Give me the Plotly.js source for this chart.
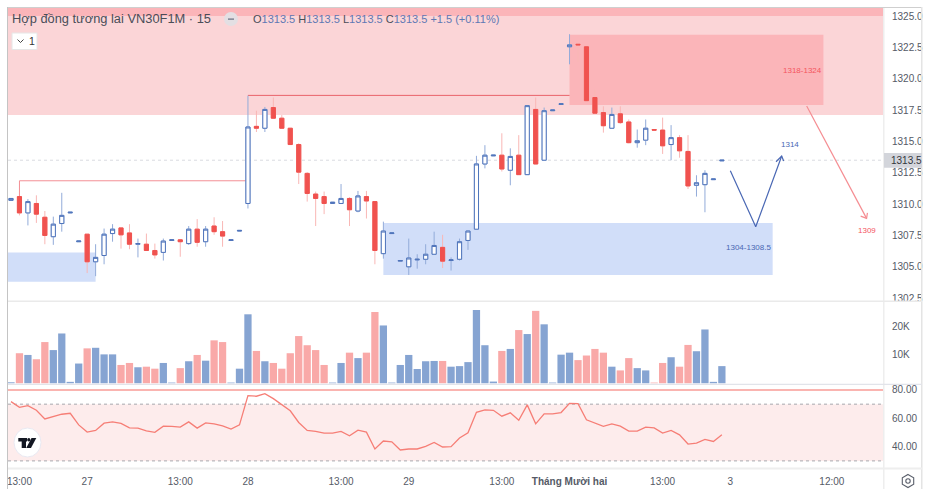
<!DOCTYPE html>
<html><head><meta charset="utf-8">
<script src="https://cdn.plot.ly/plotly-3.0.1.min.js"></script>
<style>html,body{margin:0;padding:0;background:#fff}#c{width:928px;height:489px}</style></head>
<body><div id="c"></div>
<script>
const opens=[1310.3,1310.6,1309.3,1310.05,1308.95,1307.4,1308.45,1309.3,1307.0,1307.6,1305.4,1305.9,1307.65,1308.1,1307.7,1306.8,1306.8,1306.3,1306.15,1307.1,1307.15,1306.85,1308.0,1307.0,1308.25,1307.8,1307.1,1307.85,1310.05,1316.2,1316.05,1317.7,1316.85,1316.05,1314.75,1312.45,1310.8,1310.6,1310.05,1310.05,1310.45,1309.45,1310.6,1310.2,1306.05,1307.65,1305.45,1305.0,1305.55,1305.6,1306.0,1306.55,1305.5,1305.6,1307.1,1308.0,1313.2,1313.85,1313.9,1312.7,1313.9,1312.35,1317.55,1313.5,1317.45,1317.95,1322.55,1322.75,1322.55,1318.5,1317.3,1316.05,1317.2,1316.55,1314.9,1315.1,1315.95,1315.9,1314.75,1315.3,1314.2,1311.5,1311.55,1311.95,1313.45];
const closes=[1310.45,1309.3,1310.2,1309.2,1307.5,1308.4,1309.1,1309.35,1307.05,1305.4,1305.75,1307.6,1308.0,1307.55,1306.8,1306.85,1306.3,1305.95,1307.05,1307.15,1307.0,1308.0,1306.95,1308.0,1307.8,1307.45,1307.15,1307.9,1316.15,1316.05,1317.55,1316.85,1316.05,1314.75,1312.55,1310.85,1310.45,1310.05,1310.15,1310.45,1309.55,1310.65,1310.25,1306.3,1307.85,1307.7,1305.5,1305.7,1305.6,1306.0,1306.7,1305.45,1305.55,1307.0,1307.85,1313.2,1313.9,1313.9,1312.8,1313.8,1312.35,1317.85,1313.2,1317.45,1317.5,1318.0,1322.7,1322.7,1318.25,1317.25,1316.25,1317.15,1316.5,1314.9,1315.05,1316.05,1315.9,1314.65,1315.3,1314.25,1311.45,1311.7,1312.45,1312.0,1313.5];
const highs=[1310.45,1310.6,1310.4,1310.7,1309.45,1309,1310.9,1309.35,1307.05,1307.6,1306.8,1308.05,1308.4,1308.1,1308.4,1307.25,1307.65,1306.85,1307.25,1307.15,1307.2,1308.25,1308.8,1308.25,1308.95,1308.65,1307.15,1307.9,1318.65,1317.45,1317.75,1318.5,1317.1,1316.05,1314.85,1312.55,1311,1311,1310.15,1311.6,1310.55,1311.05,1311.05,1310.2,1308.6,1307.7,1305.5,1307.25,1306,1306.8,1307.8,1307.55,1305.75,1307.25,1307.9,1313.85,1314.7,1313.9,1315.65,1314.45,1315.5,1317.85,1318.5,1317.7,1317.5,1318,1323.55,1322.9,1322.55,1319.15,1317.8,1317.7,1317.8,1316.75,1315.95,1316.75,1315.95,1316.9,1316.3,1315.5,1315.5,1312.3,1312.7,1312,1313.5];
const lows=[1310.3,1309.1,1308.3,1308.5,1306.8,1306.75,1307.8,1309.3,1307,1304.5,1304.25,1305.2,1307,1306.45,1306.4,1305.75,1306.3,1305.65,1305.5,1307.1,1305.8,1306.75,1306.6,1306.6,1307.55,1306.6,1307.1,1307.85,1309.65,1315.75,1315.75,1316.85,1316.05,1314.75,1311.6,1310.2,1308.25,1309.2,1310.05,1310.05,1308.25,1309.35,1308.85,1305.2,1305.65,1307.65,1305.45,1304.35,1304.85,1305.2,1306,1304.9,1304.7,1305.5,1306.35,1308,1312.85,1313.85,1312.6,1311.5,1312.35,1312.35,1313.2,1313.5,1317.45,1317.95,1321.15,1321.35,1318.25,1317.25,1315.7,1316.05,1316.4,1314.85,1314.5,1314.7,1315.9,1314,1313.5,1313.7,1311.2,1310.6,1309.35,1311.95,1313.45];
const volumes=[0.35,10.5,9.9,8.4,14.4,11.6,17.4,0.5,6.9,12.2,12.4,10.1,10.1,6.4,7.1,5.6,5.8,5.1,7.1,0.25,5.3,7.7,9.9,7.9,15,14.4,0.25,5.1,24.1,11.3,7.7,7.1,5.1,10.5,16.5,13.3,11.6,6.4,0.25,7.1,10.7,8.8,10.7,24.9,20.2,0.25,6.4,9.9,5,7.7,7.8,7.8,5.8,6,7.4,25.6,13.3,0.6,11.3,12,18.6,17.2,25.3,20.6,0.25,10,10.7,8.1,9.7,12,10.7,5.8,4.5,8.8,5.3,4.5,0.25,7.1,9.1,5.8,13.4,11.2,18.8,0.5,6];
const rsi=[71.8,67.8,69,65.7,59.6,61.5,62.9,63.6,55.4,50.3,51.5,56.6,57.5,56.4,53.3,53.1,51.2,50.1,54.5,54.3,53.8,57.5,53.1,56.8,56.1,54.7,52.4,55.4,76,75.6,77.4,73.9,69.9,65.3,57.1,51.5,50.8,49.6,49.6,50.8,47.7,51.7,50.3,38.4,44,43.5,37.7,38.4,38.4,40.2,43,39.8,40,46.1,49.8,64.3,66,65.7,61.5,63.9,58.7,69.5,56.1,63.2,63.2,64.1,70.6,70.4,59,56.8,54.3,56.1,54.5,51,51,53.8,53.3,49.6,51.5,48.4,41.9,42.6,45.1,43.7,48.4];
const timeTickIdx=[1,9,20,28,39,47,58,66,77,85,97];
const timeTickText=['13:00','27','13:00','28','13:00','29','13:00','<b>Tháng Mười hai</b>','13:00','3','12:00'];
const priceTicks=[1302.5,1305,1307.5,1310,1312.5,1315,1317.5,1320,1322.5,1325];
const volTicks=[10,20];
const rsiTicks=[40,60,80];
const lastPrice=1313.5;
const bluePath=[[85,1312.66],[88,1308.19],[91.07,1313.83]];
const redPath=[[94.02,1317.82],[101.1,1308.86]];

const UP='#4f74bb',DOWN='#f0524f',UPW='#92abd9',DOWNW='#f9b7b5',VUP='#86a4d2',VDOWN='#f9a9a8';
const TXT='#555a66';
const idx=opens.map((_,i)=>i);
const bodyHi=opens.map((o,i)=>Math.max(o,closes[i]));
const bodyLo=opens.map((o,i)=>Math.min(o,closes[i]));

const L=8,R=883,T=8,B=468;
const px=x=>(x-L)/(R-L), py=y=>(B-y)/(B-T);
const xRange=[-0.354,103.04];

const traces=[
 {type:'candlestick',x:idx,open:opens,high:highs,low:lows,close:closes,xaxis:'x',yaxis:'y',hoverinfo:'skip',whiskerwidth:0,
  increasing:{line:{color:UPW,width:1},fillcolor:'rgba(0,0,0,0)'},decreasing:{line:{color:DOWNW,width:1},fillcolor:'rgba(0,0,0,0)'}},
 {type:'candlestick',x:idx,open:opens,high:bodyHi,low:bodyLo,close:closes,xaxis:'x',yaxis:'y',hoverinfo:'skip',whiskerwidth:0,
  increasing:{line:{color:UP,width:1},fillcolor:'#ffffff'},decreasing:{line:{color:DOWN,width:1},fillcolor:DOWN}},
 {type:'scatter',mode:'lines',x:bluePath.map(p=>p[0]).concat([null,90.4,91.07,91.3]),y:bluePath.map(p=>p[1]).concat([null,1313.38,1313.83,1313.43]),xaxis:'x',yaxis:'y',line:{color:'#4a68b4',width:1.2},hoverinfo:'skip'},
 {type:'scatter',mode:'lines',x:redPath.map(p=>p[0]).concat([null,100.4,101.1,101.2]),y:redPath.map(p=>p[1]).concat([null,1309.04,1308.86,1309.3]),xaxis:'x',yaxis:'y',line:{color:'#f58d92',width:1.2},hoverinfo:'skip'},
 {type:'bar',x:idx,y:volumes,xaxis:'x',yaxis:'y2',width:0.86,hoverinfo:'skip',
  marker:{color:idx.map(i=>closes[i]>=opens[i]?VUP:VDOWN),line:{width:0}}},
 {type:'scatter',mode:'lines',x:idx,y:rsi,xaxis:'x',yaxis:'y3',line:{color:'#f67e76',width:1.3},hoverinfo:'skip'}
];
const rectD=(x0,x1,y0,y1,c,layer)=>({type:'rect',xref:'x',yref:'y',x0,x1,y0,y1,fillcolor:c,line:{width:0},layer:layer||'below'});
const page=(x0,y0,x1,y1,o)=>Object.assign({type:'rect',xref:'paper',yref:'paper',x0:px(x0),x1:px(x1),y0:py(y1),y1:py(y0),line:{width:0}},o);
const pagePath=(pts,o)=>Object.assign({type:'path',xref:'paper',yref:'paper',layer:'above',line:{width:0},
  path:pts.map((p,i)=>(i?'L':'M')+px(p[0])+','+py(p[1])).join(' ')+(o&&o.open?'':' Z')},o);
const shapes=[
 rectD(xRange[0],xRange[1],1317.1,1325.64,'#fbd5d7'),
 rectD(xRange[0],xRange[1],1325,1325.64,'#fbb5b9'),
 rectD(66,96,1317.9,1323.5,'#fbb5b9'),
 rectD(xRange[0],10,1303.8,1306.14,'#d1def9'),
 rectD(44,90,1304.34,1308.5,'#d1def9'),
 {type:'path',xref:'x',yref:'y',path:'M1,1310.6 L1,1311.86 L28,1311.86',line:{color:'#f39095',width:1},layer:'below'},
 {type:'line',xref:'x',yref:'y',x0:28,x1:66,y0:1318.67,y1:1318.67,line:{color:'#e9626a',width:1},layer:'below'},
 {type:'line',xref:'x',yref:'y',x0:xRange[0],x1:xRange[1],y0:lastPrice,y1:lastPrice,line:{color:'#d9dbe0',width:1,dash:'dot'},layer:'below'},
 {type:'rect',xref:'x',yref:'y3',x0:xRange[0],x1:xRange[1],y0:30,y1:70,fillcolor:'#fdecec',line:{width:0},layer:'below'},
 {type:'line',xref:'x',yref:'y3',x0:xRange[0],x1:xRange[1],y0:70,y1:70,line:{color:'#a8a8ae',width:1,dash:'3px,3px'},layer:'below'},
 {type:'line',xref:'x',yref:'y3',x0:xRange[0],x1:xRange[1],y0:30,y1:30,line:{color:'#a8a8ae',width:1,dash:'3px,3px'},layer:'below'},
 {type:'line',xref:'x',yref:'y3',x0:xRange[0],x1:xRange[1],y0:80,y1:80,line:{color:'#f56a62',width:1.2},layer:'below'},
 // frame
 page(7,7,922,8,{fillcolor:'#cfcfcf'}),
 page(7,7,8,489,{fillcolor:'#c4c4c4'}),
 page(921,7,922.5,489,{fillcolor:'#e4e4e4'}),
 page(883,8,884.5,489,{fillcolor:'#eeeeee'}),
 page(8,300.5,922,302,{fillcolor:'#eaeaea'}),
 page(8,383.8,922,385,{fillcolor:'#e2e4ea'}),
 page(8,467.5,922,469.5,{fillcolor:'#eeeeee'}),
 page(884,153,922,167.7,{fillcolor:'#d3d5db',layer:'above'}),
 // legend toggles
 page(12,33,37,49.5,{fillcolor:'#ffffff',line:{color:'#e6e6e6',width:1},layer:'above'}),
 pagePath([[17.5,39.5],[20.5,42.5],[23.5,39.5]],{open:true,line:{color:'#444',width:1}}),
 Object.assign(page(224,12,238,26,{fillcolor:'#e3dfe3',layer:'above'}),{type:'circle'}),
 page(228,18.3,234,20,{fillcolor:'#8a8f9c',layer:'above'}),
 // logo
 Object.assign(page(14,428,41,457,{fillcolor:'#ffffff',line:{color:'#e9e9f2',width:1},layer:'above'}),{type:'circle'}),
 page(18.3,438,27,441.5,{fillcolor:'#131722',layer:'above'}),
 page(21.7,438,26,448,{fillcolor:'#131722',layer:'above'}),
 Object.assign(page(27.2,438,30.4,441.5,{fillcolor:'#131722',layer:'above'}),{type:'circle'}),
 pagePath([[31.5,438],[36.3,438],[31,448],[26.2,448]],{fillcolor:'#131722'}),
 // settings
 pagePath([[908,474.5],[913.7,477.8],[913.7,484.3],[908,487.5],[902.3,484.3],[902.3,477.8]],{fillcolor:'rgba(0,0,0,0)',line:{color:'#5a5f6b',width:1.1}}),
 Object.assign(page(905.8,478.8,910.2,483.2,{fillcolor:'rgba(0,0,0,0)',line:{color:'#5a5f6b',width:1.1},layer:'above'}),{type:'circle'})
];
const note=(text,x,y,size,color,extra)=>Object.assign({text,x,y,xref:'x',yref:'y',showarrow:false,font:{size,color,family:'Liberation Sans'}},extra||{});
const pnote=(text,x,y,size,color,extra)=>Object.assign({text,x:px(x),y:py(y),xref:'paper',yref:'paper',showarrow:false,xanchor:'left',yanchor:'middle',font:{size,color,family:'Liberation Sans'}},extra||{});
const V='<span style="color:#5f78b4">';
const annotations=[
 note('1318-1324',93.5,1320.66,8,'#f4555f'),
 note('1309',101.2,1307.9,8,'#f4555f'),
 note('1314',92.1,1314.75,8,'#4a68b4'),
 note('1304-1308.5',87.1,1306.55,8,'#4a68b4'),
 pnote('Hợp đồng tương lai VN30F1M · 15',10,19,12.85,'#4a4d57'),
 pnote('O'+V+'1313.5</span> H'+V+'1313.5</span> L'+V+'1313.5</span> C'+V+'1313.5</span> '+V+'+1.5 (+0.11%)</span>',251,19,11,'#4a4d57'),
 pnote('1',27,41,10.5,'#333'),
 pnote('1313.5',889,160.3,10,'#33353d')
];
const axisFont={size:10,color:TXT,family:'Liberation Sans'};
const yBase={side:'right',anchor:'x',showgrid:false,zeroline:false,showline:false,ticks:'outside',ticklen:6,tickcolor:'rgba(0,0,0,0)',tickfont:axisFont,fixedrange:true};
const layout={
 width:928,height:489,margin:{l:L,r:928-R,t:T,b:489-B},paper_bgcolor:'#fff',plot_bgcolor:'#fff',showlegend:false,
 xaxis:{range:xRange,domain:[0,1],anchor:'y3',tickmode:'array',tickvals:timeTickIdx,ticktext:timeTickText,tickangle:0,showgrid:false,zeroline:false,showline:false,ticks:'outside',ticklen:4,tickcolor:'rgba(0,0,0,0)',tickfont:axisFont,rangeslider:{visible:false},fixedrange:true},
 yaxis:Object.assign({},yBase,{domain:[0.363,1],range:[1302.27,1325.64],tickmode:'array',tickvals:priceTicks,tickformat:'.1f'}),
 yaxis2:Object.assign({},yBase,{domain:[0.1826,0.3609],range:[-0.25,28.4],tickmode:'array',tickvals:volTicks,ticktext:volTicks.map(v=>v+'K')}),
 yaxis3:Object.assign({},yBase,{domain:[0,0.1804],range:[25,83.5],tickmode:'array',tickvals:rsiTicks,tickformat:'.2f'}),
 shapes,annotations,bargap:0.12
};
Plotly.newPlot('c',traces,layout,{displayModeBar:false,staticPlot:true});
</script></body></html>
